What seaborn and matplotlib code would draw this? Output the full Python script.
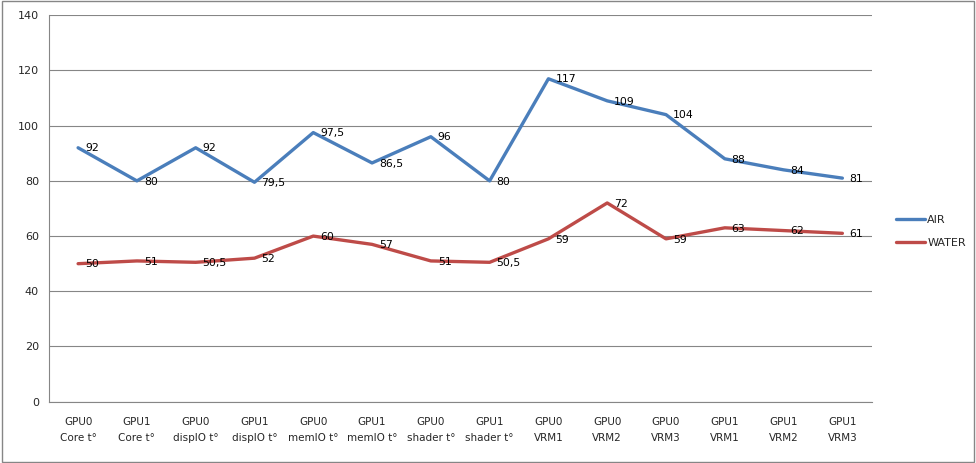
import matplotlib
matplotlib.use("Agg")
import matplotlib.pyplot as plt
import seaborn as sns
import pandas as pd
import numpy as np

categories = ["GPU0\nCore t°", "GPU1\nCore t°", "GPU0\ndispIO t°", "GPU1\ndispIO t°",
              "GPU0\nmemIO t°", "GPU1\nmemIO t°", "GPU0\nshader t°", "GPU1\nshader t°",
              "GPU0\nVRM1", "GPU0\nVRM2", "GPU0\nVRM3", "GPU1\nVRM1", "GPU1\nVRM2", "GPU1\nVRM3"]
air = [92, 80, 92, 79.5, 97.5, 86.5, 96, 80, 117, 109, 104, 88, 84, 81]
water = [50, 51, 50.5, 52, 60, 57, 51, 50.5, 59, 72, 59, 63, 62, 61]
series_names = ["AIR", "WATER"]
y_ticks = [0, 20, 40, 60, 80, 100, 120, 140]

df = pd.DataFrame({
    "cat": categories * 2,
    "value": air + water,
    "series": [series_names[0]] * len(air) + [series_names[1]] * len(water),
})

sns.set_style("white")
plt.rcParams["font.family"] = ["DejaVu Sans"]

fig = plt.figure(figsize=(9.76, 4.63), dpi=100)
ax = fig.add_axes([0.0499, 0.1324, 0.8433, 0.8346])

palette = {"AIR": "#4A7EBB", "WATER": "#BE4B48"}
sns.lineplot(data=df, x="cat", y="value", hue="series", palette=palette,
             linewidth=2.4, ax=ax, sort=False)

for name, vals in zip(series_names, [air, water]):
    for i, v in enumerate(vals):
        txt = f"{v:g}".replace(".", ",")
        ax.annotate(txt, (i, v), xytext=(5, -0.5), textcoords="offset points",
                    ha="left", va="center", fontsize=7.8, color="black")

ax.set_xlim(-0.5, len(categories) - 0.5)
ax.set_ylim(0, 140)
ax.set_yticks(y_ticks)
ax.set_xticks(range(len(categories)))
ax.set_xticklabels(categories, fontsize=7.5, linespacing=1.75)
ax.set_xticks(np.arange(-0.5, len(categories), 1), minor=True)
ax.tick_params(axis="x", which="major", length=0, pad=11)
ax.tick_params(axis="x", which="minor", length=4, color="#868686", width=1)
ax.tick_params(axis="y", which="major", length=4, color="#868686", width=1, labelsize=8, pad=3)
ax.set_xlabel("")
ax.set_ylabel("")
ax.grid(axis="y", color="#868686", linewidth=0.8)
ax.set_axisbelow(True)
for s in ["top", "right"]:
    ax.spines[s].set_visible(False)
for s in ["left", "bottom"]:
    ax.spines[s].set_color("#868686")
    ax.spines[s].set_linewidth(0.8)

handles, labels = ax.get_legend_handles_labels()
ax.get_legend().remove()
fig.legend(handles, labels, loc="center left", bbox_to_anchor=(0.908, 0.5),
           frameon=False, fontsize=8, handlelength=2.6, handletextpad=0.2,
           labelspacing=1.2)

border = plt.Rectangle((0.002, 0.003), 0.996, 0.994, transform=fig.transFigure,
                       fill=False, edgecolor="#868686", linewidth=1)
fig.patches.append(border)

fig.savefig("out.png", dpi=100)
